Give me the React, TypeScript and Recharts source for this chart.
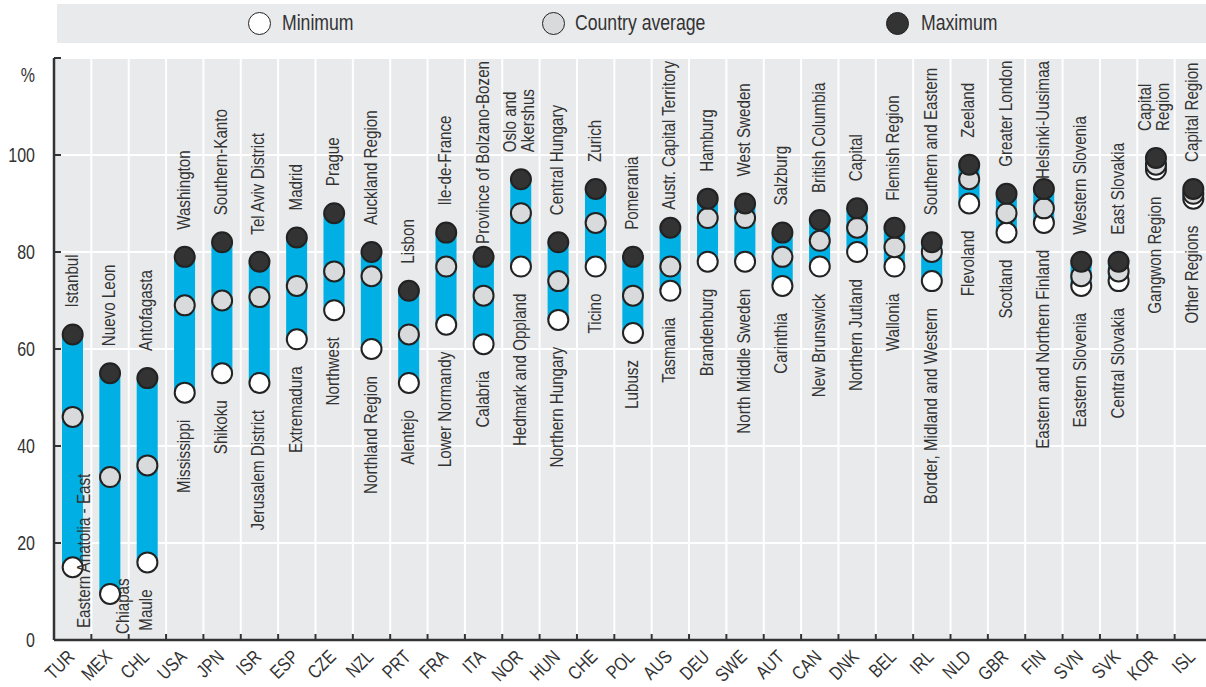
import { ComposedChart, Bar, Line, XAxis, YAxis, CartesianGrid } from "recharts";

const codes = ["TUR", "MEX", "CHL", "USA", "JPN", "ISR", "ESP", "CZE", "NZL", "PRT", "FRA", "ITA", "NOR", "HUN", "CHE", "POL", "AUS", "DEU", "SWE", "AUT", "CAN", "DNK", "BEL", "IRL", "NLD", "GBR", "FIN", "SVN", "SVK", "KOR", "ISL"];
const minValues = [15, 9.5, 16, 51, 55, 53, 62, 68, 60, 53, 65, 61, 77, 66, 77, 63.3, 72, 78, 78, 73, 77, 80, 77, 74, 90, 84, 86, 73, 74, 97, 91];
const avgValues = [46, 33.6, 36, 69, 70, 70.7, 73, 76, 75, 63, 77, 71, 88, 74, 86, 71, 77, 87, 87, 79, 82.3, 85, 81, 80, 95, 88, 89, 75, 76, 98, 92];
const maxValues = [63, 55, 54, 79, 82, 78, 83, 88, 80, 72, 84, 79, 95, 82, 93, 79, 85, 91, 90, 84, 86.6, 89, 85, 82, 98, 92, 93, 78, 78, 99.4, 93];
const maxRegion = ["Istanbul", "Nuevo Leon", "Antofagasta", "Washington", "Southern-Kanto", "Tel Aviv District", "Madrid", "Prague", "Auckland Region", "Lisbon", "Ile-de-France", "Province of Bolzano-Bozen", "Oslo and\nAkershus", "Central Hungary", "Zurich", "Pomerania", "Austr. Capital Territory", "Hamburg", "West Sweden", "Salzburg", "British Columbia", "Capital", "Flemish Region", "Southern and Eastern", "Zeeland", "Greater London", "Helsinki-Uusimaa", "Western Slovenia", "East Slovakia", "Capital\nRegion", "Capital Region"];
const minRegion = ["Eastern Anatolia - East", "Chiapas", "Maule", "Mississippi", "Shikoku", "Jerusalem District", "Extremadura", "Northwest", "Northland Region", "Alentejo", "Lower Normandy", "Calabria", "Hedmark and Oppland", "Northern Hungary", "Ticino", "Lubusz", "Tasmania", "Brandenburg", "North Middle Sweden", "Carinthia", "New Brunswick", "Northern Jutland", "Wallonia", "Border, Midland and Western", "Flevoland", "Scotland", "Eastern and Northern Finland", "Eastern Slovenia", "Central Slovakia", "Gangwon Region", "Other Regions"];
const yTicks = [0, 20, 40, 60, 80, 100, 120];

const data = codes.map((code, i) => ({
  code,
  min: minValues[i],
  avg: avgValues[i],
  max: maxValues[i],
  range: [minValues[i], maxValues[i]],
}));

// layout
const W = 1212;
const H = 687;
const PL = 54; // plot left
const PT = 58; // plot top
const XH = 47; // x axis height
const AXIS_Y = H - XH;
const BAND = (W - PL) / codes.length;
// no narrow font installed: squeeze Liberation Sans like Arial Narrow
const FONT = "'Liberation Sans', Arial, sans-serif";
const SQ = 0.82;
const TEXT = "#333";

// labels that don't fit the default spot
const pinTop = new Set(["ITA", "AUS", "FIN"]);
const minFix: Record<string, { dx: number; y: number }> = {
  TUR: { dx: 17, y: 628 },
  MEX: { dx: 19, y: 634 },
};

const dot = (fill: string) => (p: any) => (
  <circle key={p.index} cx={p.cx} cy={p.cy} r={10} fill={fill} stroke="#222" strokeWidth={2} />
);

const regionLabel = (kind: "min" | "max") => (p: any) => {
  const code = codes[p.index];
  const lines = (kind === "max" ? maxRegion : minRegion)[p.index].split("\n");
  let y = kind === "max" ? p.cy - 27 : p.cy + 27;
  let anchor = kind === "max" ? "start" : "end";
  let dx = 5;
  if (kind === "max" && pinTop.has(code)) {
    y = PT + 3;
    anchor = "end";
  }
  if (kind === "min" && minFix[code]) {
    y = minFix[code].y;
    anchor = "start";
    dx = minFix[code].dx;
  }
  const xs = lines.length > 1 ? [p.cx - 5, p.cx + 13] : [p.cx + dx];
  return (
    <g key={p.index}>
      {lines.map((t, j) => (
        <text
          key={j}
          transform={`translate(${xs[j]},${y}) rotate(-90) scale(${SQ},1)`}
          textAnchor={anchor}
          fontSize={18.5}
          fontFamily={FONT}
          fill={TEXT}
        >
          {t}
        </text>
      ))}
    </g>
  );
};

const XTick = (p: any) => {
  const x = p.x;
  const last = p.index === codes.length - 1;
  const ax = x + 3;
  const ay = AXIS_Y + 18;
  return (
    <g>
      <line x1={x - BAND / 2} x2={x - BAND / 2} y1={AXIS_Y} y2={AXIS_Y - 6} stroke={TEXT} strokeWidth={2} />
      {last && <line x1={x + BAND / 2} x2={x + BAND / 2} y1={AXIS_Y} y2={AXIS_Y - 6} stroke={TEXT} strokeWidth={2} />}
      <text transform={`translate(${ax},${ay}) rotate(-45) scale(${SQ},1)`} textAnchor="end" fontSize={19} fontFamily={FONT} fill={TEXT}>
        {p.payload.value}
      </text>
    </g>
  );
};

const YTick = (p: any) => {
  const v = p.payload.value;
  const ty = v === 120 ? p.y + 17 : p.y;
  return (
    <g>
      <line x1={PL} x2={PL + 7} y1={p.y} y2={p.y} stroke={TEXT} strokeWidth={2} />
      <text transform={`translate(35,${ty}) scale(${SQ},1)`} textAnchor="end" dominantBaseline="central" fontSize={19.5} fontFamily={FONT} fill={TEXT}>
        {v === 120 ? "%" : v}
      </text>
    </g>
  );
};

const legendItems = [
  { name: "Minimum", fill: "#fff", cx: 260, tx: 282 },
  { name: "Country average", fill: "#d9dadc", cx: 554, tx: 575 },
  { name: "Maximum", fill: "#333", cx: 898, tx: 921 },
];

function Legend() {
  return (
    <div style={{ position: "absolute", left: 57, top: 4, width: 1149, height: 39, background: "#e9eaec" }}>
      {legendItems.map((it) => (
        <div key={it.name}>
          <div
            style={{
              position: "absolute",
              left: it.cx - 57 - 12,
              top: 8,
              width: 21,
              height: 21,
              borderRadius: "50%",
              background: it.fill,
              border: "1.5px solid #222",
            }}
          />
          <div
            style={{
              position: "absolute",
              left: it.tx - 57,
              top: 7,
              fontFamily: FONT,
              fontSize: 21.5,
              lineHeight: "24px",
              color: TEXT,
              whiteSpace: "nowrap",
              transform: `scaleX(${SQ})`,
              transformOrigin: "left center",
            }}
          >
            {it.name}
          </div>
        </div>
      ))}
    </div>
  );
}

export default function App() {
  return (
    <div style={{ position: "absolute", left: 0, top: 0, width: 1206, height: 687, overflow: "hidden", background: "#fff" }}>
      <Legend />
      <div style={{ position: "absolute", left: 0, top: 0 }}>
        <ComposedChart width={W} height={H} data={data} margin={{ top: PT, right: 0, bottom: 0, left: 0 }} barCategoryGap={0}>
          <CartesianGrid
            fill="#e9eaec"
            stroke="#fff"
            strokeWidth={2}
            verticalCoordinatesGenerator={({ offset }: any) =>
              Array.from({ length: codes.length - 1 }, (_, i) => offset.left + ((i + 1) * offset.width) / codes.length)
            }
          />
          <XAxis
            dataKey="code"
            type="category"
            interval={0}
            height={XH}
            tickLine={false}
            axisLine={{ stroke: TEXT, strokeWidth: 2.5 }}
            tick={XTick}
          />
          <YAxis
            type="number"
            domain={[0, 120]}
            ticks={yTicks}
            width={PL}
            tickLine={false}
            axisLine={{ stroke: TEXT, strokeWidth: 2.5 }}
            tick={YTick}
            allowDataOverflow
          />
          <Bar dataKey="range" barSize={21} fill="#00b0e4" isAnimationActive={false} />
          <Line dataKey="min" stroke="none" dot={dot("#ffffff")} activeDot={false} isAnimationActive={false} />
          <Line dataKey="avg" stroke="none" dot={dot("#d9dadc")} activeDot={false} isAnimationActive={false} />
          <Line dataKey="max" stroke="none" dot={dot("#333333")} activeDot={false} isAnimationActive={false} />
          <Line dataKey="min" stroke="none" dot={regionLabel("min")} activeDot={false} isAnimationActive={false} />
          <Line dataKey="max" stroke="none" dot={regionLabel("max")} activeDot={false} isAnimationActive={false} />
        </ComposedChart>
      </div>
    </div>
  );
}
